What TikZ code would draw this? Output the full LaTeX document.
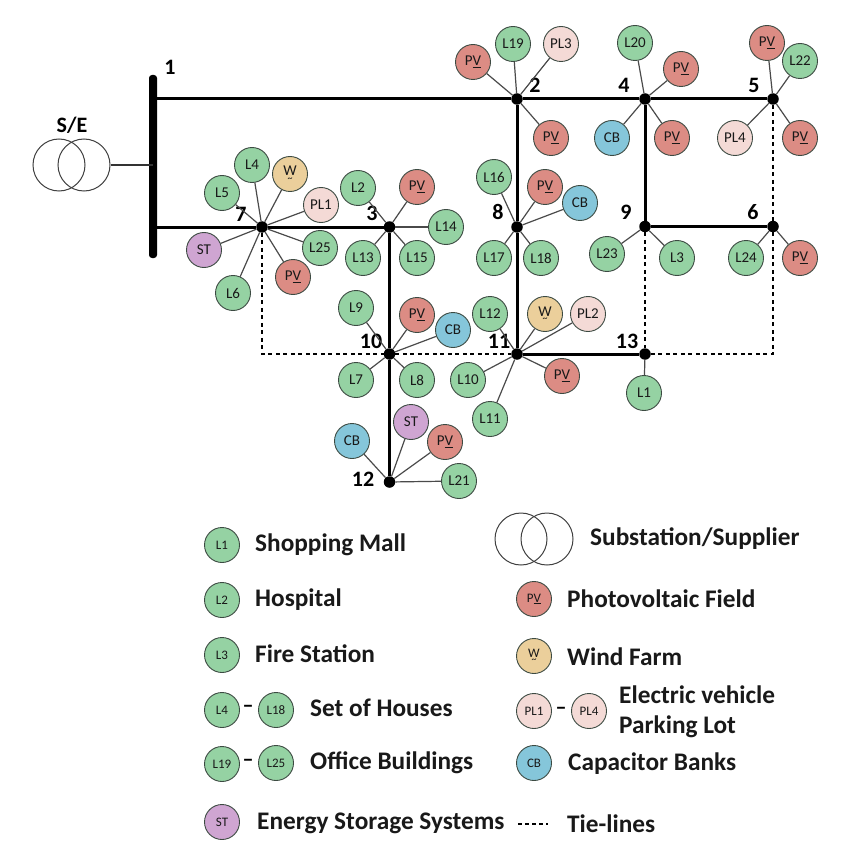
\documentclass[tikz,border=0pt]{standalone}
\usepackage{fontspec}
\setmainfont{Carlito}
\definecolor{cload}{HTML}{95D2A3}
\definecolor{cpv}{HTML}{DC8C84}
\definecolor{cwind}{HTML}{EBCF9B}
\definecolor{cpl}{HTML}{F4DAD6}
\definecolor{ccb}{HTML}{85C6DA}
\definecolor{cst}{HTML}{CFA5D2}
\definecolor{cedge}{HTML}{3C4A42}
\definecolor{cfeed}{HTML}{4A4A4A}
\newcommand{\pvtxt}{P\underline{V}}
\newcommand{\wtxt}{\shortstack{W\\[-1pt]\fontsize{10}{7}\selectfont\textasciitilde}}
\tikzset{
  x=1pt,y=-1pt,
  devbase/.style={circle,draw=cedge,line width=0.9pt,minimum size=35pt,inner sep=0pt,text=black!90,font=\fontsize{15}{15}\selectfont},
  loadn/.style={devbase,fill=cload},
  pvn/.style={devbase,fill=cpv},
  windn/.style={devbase,fill=cwind},
  parkn/.style={devbase,fill=cpl},
  capn/.style={devbase,fill=ccb},
  storn/.style={devbase,fill=cst},
  legn/.style={font=\fontsize{13}{13}\selectfont},
  busn/.style={circle,fill=black,minimum size=11.5pt,inner sep=0pt},
  numn/.style={font=\bfseries\fontsize{22}{22}\selectfont,inner sep=0pt},
  mainl/.style={line width=3pt,black},
  tiel/.style={line width=2.5pt,black,dash pattern=on 4pt off 3.5pt},
  feedl/.style={line width=1.2pt,cfeed},
  labn/.style={font=\bfseries\fontsize{25.3}{25.3}\selectfont,anchor=west,inner sep=0pt,text=black!90},
  dashn/.style={font=\bfseries\fontsize{22}{22}\selectfont,inner sep=0pt},
  trafon/.style={circle,draw=black!75,line width=1pt,minimum size=52pt,inner sep=0pt},
}
\begin{document}
\begin{tikzpicture}
\useasboundingbox (0,0) rectangle (844,850);
% buses
\node[busn] (b2) at (517,99) {};
\node[busn] (b3) at (389.5,227) {};
\node[busn] (b4) at (645,99) {};
\node[busn] (b5) at (773,99) {};
\node[busn] (b6) at (773,226.5) {};
\node[busn] (b7) at (262,227) {};
\node[busn] (b8) at (517,227) {};
\node[busn] (b9) at (645,226.5) {};
\node[busn] (b10) at (389.5,354) {};
\node[busn] (b11) at (517,354) {};
\node[busn] (b12) at (389.5,482) {};
\node[busn] (b13) at (645,354) {};
\coordinate (c7) at (262,354);
\coordinate (c6) at (773,354);
% slack bus and transformer
\node[fill=black,rounded corners=3pt,minimum width=8pt,minimum height=183pt,inner sep=0pt] (bar) at (153,166.5) {};
\node[trafon] (t1) at (59,165) {};
\node[trafon] (t2) at (84,165) {};
% bus numbers
\node[numn] (n1) at (170,67) {1};
\node[numn] (n2) at (535,85) {2};
\node[numn] (n3) at (372,213) {3};
\node[numn] (n4) at (624,85) {4};
\node[numn] (n5) at (754,85) {5};
\node[numn] (n6) at (753,212) {6};
\node[numn] (n7) at (241,214) {7};
\node[numn] (n8) at (498,212) {8};
\node[numn] (n9) at (626,212) {9};
\node[numn] (n10) at (371,341) {10};
\node[numn] (n11) at (499,341) {11};
\node[numn] (n12) at (363,479) {12};
\node[numn] (n13) at (627,341) {13};
\node[font=\bfseries\fontsize{22}{22}\selectfont,inner sep=0pt] (se) at (72,125) {S/E};
% devices
\node[pvn] (p2a) at (473,62) {\pvtxt};
\node[loadn] (l19) at (513,44) {L19};
\node[parkn] (pl3) at (561,44) {PL3};
\node[pvn] (p2b) at (551,138) {\pvtxt};
\node[loadn] (l20) at (635,43) {L20};
\node[pvn] (p4a) at (681,69) {\pvtxt};
\node[capn] (cb4) at (612,138) {CB};
\node[pvn] (p4b) at (672,138) {\pvtxt};
\node[pvn] (p5a) at (767,43) {\pvtxt};
\node[loadn] (l22) at (800,61) {L22};
\node[parkn] (pl4) at (735,138) {PL4};
\node[pvn] (p5b) at (800,138) {\pvtxt};
\node[loadn] (l16) at (494,177) {L16};
\node[pvn] (p8) at (545,187) {\pvtxt};
\node[capn] (cb8) at (580,203) {CB};
\node[loadn] (l17) at (494,258) {L17};
\node[loadn] (l18) at (541,258) {L18};
\node[loadn] (l23) at (607,254) {L23};
\node[loadn] (l3) at (677,258) {L3};
\node[loadn] (l24) at (746,258) {L24};
\node[pvn] (p6) at (800,258) {\pvtxt};
\node[loadn] (l4) at (252,165) {L4};
\node[windn] (w7) at (290,174) {\wtxt};
\node[loadn] (l5) at (222,193) {L5};
\node[parkn] (pl1) at (321,205) {PL1};
\node[storn] (st7) at (204,250) {ST};
\node[loadn] (l25) at (320,248) {L25};
\node[pvn] (p7) at (293,277) {\pvtxt};
\node[loadn] (l6) at (233,293) {L6};
\node[loadn] (l2) at (358,188) {L2};
\node[pvn] (p3) at (417,187) {\pvtxt};
\node[loadn] (l14) at (446,227) {L14};
\node[loadn] (l13) at (363,258) {L13};
\node[loadn] (l15) at (417,258) {L15};
\node[loadn] (l9) at (356,308) {L9};
\node[pvn] (p10) at (417,315) {\pvtxt};
\node[capn] (cb10) at (453,330) {CB};
\node[loadn] (l7) at (356,380) {L7};
\node[loadn] (l8) at (417,380) {L8};
\node[loadn] (l12) at (490,314) {L12};
\node[windn] (w11) at (545,314) {\wtxt};
\node[parkn] (pl2) at (588,314) {PL2};
\node[loadn] (l10) at (468,380) {L10};
\node[pvn] (p11) at (562,376) {\pvtxt};
\node[loadn] (l11) at (490,419) {L11};
\node[loadn] (l1) at (644,393) {L1};
\node[storn] (st12) at (411,422) {ST};
\node[capn] (cb12) at (352,441) {CB};
\node[pvn] (p12) at (445,442) {\pvtxt};
\node[loadn] (l21) at (459,481) {L21};
% main lines
\draw[mainl] (bar.center |- b2) -- (b2);
\draw[mainl] (bar.center |- b7) -- (b7);
\draw[line width=1.6pt,black!80] (t2) -- (t2 -| bar.center);
\draw[mainl] (b2) -- (b4);
\draw[mainl] (b4) -- (b5);
\draw[mainl] (b2) -- (b8);
\draw[mainl] (b8) -- (b11);
\draw[mainl] (b4) -- (b9);
\draw[mainl] (b9) -- (b6);
\draw[mainl] (b7) -- (b3);
\draw[mainl] (b3) -- (b10);
\draw[mainl] (b10) -- (b12);
\draw[mainl] (b11) -- (b13);
% tie lines
\draw[tiel] (b7) -- (c7) -- (b10);
\draw[tiel] (b10) -- (b11);
\draw[tiel] (b9) -- (b13);
\draw[tiel] (b13) -- (c6) -- (b6);
\draw[tiel] (b5) -- (b6);
% feeders
\foreach \b/\d in {b2/p2a,b2/l19,b2/pl3,b2/p2b,
  b4/l20,b4/p4a,b4/cb4,b4/p4b,
  b5/p5a,b5/l22,b5/pl4,b5/p5b,
  b8/l16,b8/p8,b8/cb8,b8/l17,b8/l18,
  b9/l23,b9/l3,b6/l24,b6/p6,
  b7/l4,b7/w7,b7/l5,b7/pl1,b7/st7,b7/l25,b7/p7,b7/l6,
  b3/l2,b3/p3,b3/l14,b3/l13,b3/l15,
  b10/l9,b10/p10,b10/cb10,b10/l7,b10/l8,
  b11/l12,b11/w11,b11/pl2,b11/l10,b11/p11,b11/l11,
  b13/l1,b12/st12,b12/cb12,b12/p12,b12/l21}
  \draw[feedl] (\b) -- (\d);
% legend, left column
\node[loadn,legn] (kl1) at (222,545) {L1};
\node[labn] (tl1) at (255,545) {Shopping Mall};
\node[loadn,legn] (kl2) at (222,600) {L2};
\node[labn] (tl2) at (255,600) {Hospital};
\node[loadn,legn] (kl3) at (222,655) {L3};
\node[labn] (tl3) at (255,654) {Fire Station};
\node[loadn,legn] (kl4) at (222,710) {L4};
\node[dashn] (d1) at (248,709) {–};
\node[loadn,legn] (kl18) at (276,710) {L18};
\node[labn] (tl4) at (310,708) {Set of Houses};
\node[loadn,legn] (kl19) at (222,764) {L19};
\node[dashn] (d2) at (248,763) {–};
\node[loadn,legn] (kl25) at (276,763) {L25};
\node[labn] (tl5) at (310,763) {Office Buildings};
\node[storn,legn] (kst) at (222,822) {ST};
\node[labn] (tst) at (257,823) {Energy Storage Systems};
% legend, right column
\node[trafon] (kt1) at (521,539) {};
\node[trafon] (kt2) at (547,539) {};
\node[labn] (ttr) at (590,539) {Substation/Supplier};
\node[pvn,legn] (kpv) at (534,599) {\pvtxt};
\node[labn] (tpv) at (567,599) {Photovoltaic Field};
\node[windn,legn] (kw) at (534,656) {\wtxt};
\node[labn] (tw) at (567,657) {Wind Farm};
\node[parkn,legn] (kp1) at (534,711) {PL1};
\node[dashn] (d3) at (561,711) {–};
\node[parkn,legn] (kp4) at (589,711) {PL4};
\node[labn] (te1) at (619,695) {Electric vehicle};
\node[labn] (te2) at (619,727) {Parking Lot};
\node[capn,legn] (kcb) at (534,763) {CB};
\node[labn] (tcb) at (568,764) {Capacitor Banks};
\coordinate (ka) at (518,824);
\coordinate (kb) at (548,824);
\draw[black,line width=1.3pt,dash pattern=on 4pt off 3pt] (ka) -- (kb);
\node[labn] (ttie) at (567,824) {Tie-lines};
\end{tikzpicture}
\end{document}
